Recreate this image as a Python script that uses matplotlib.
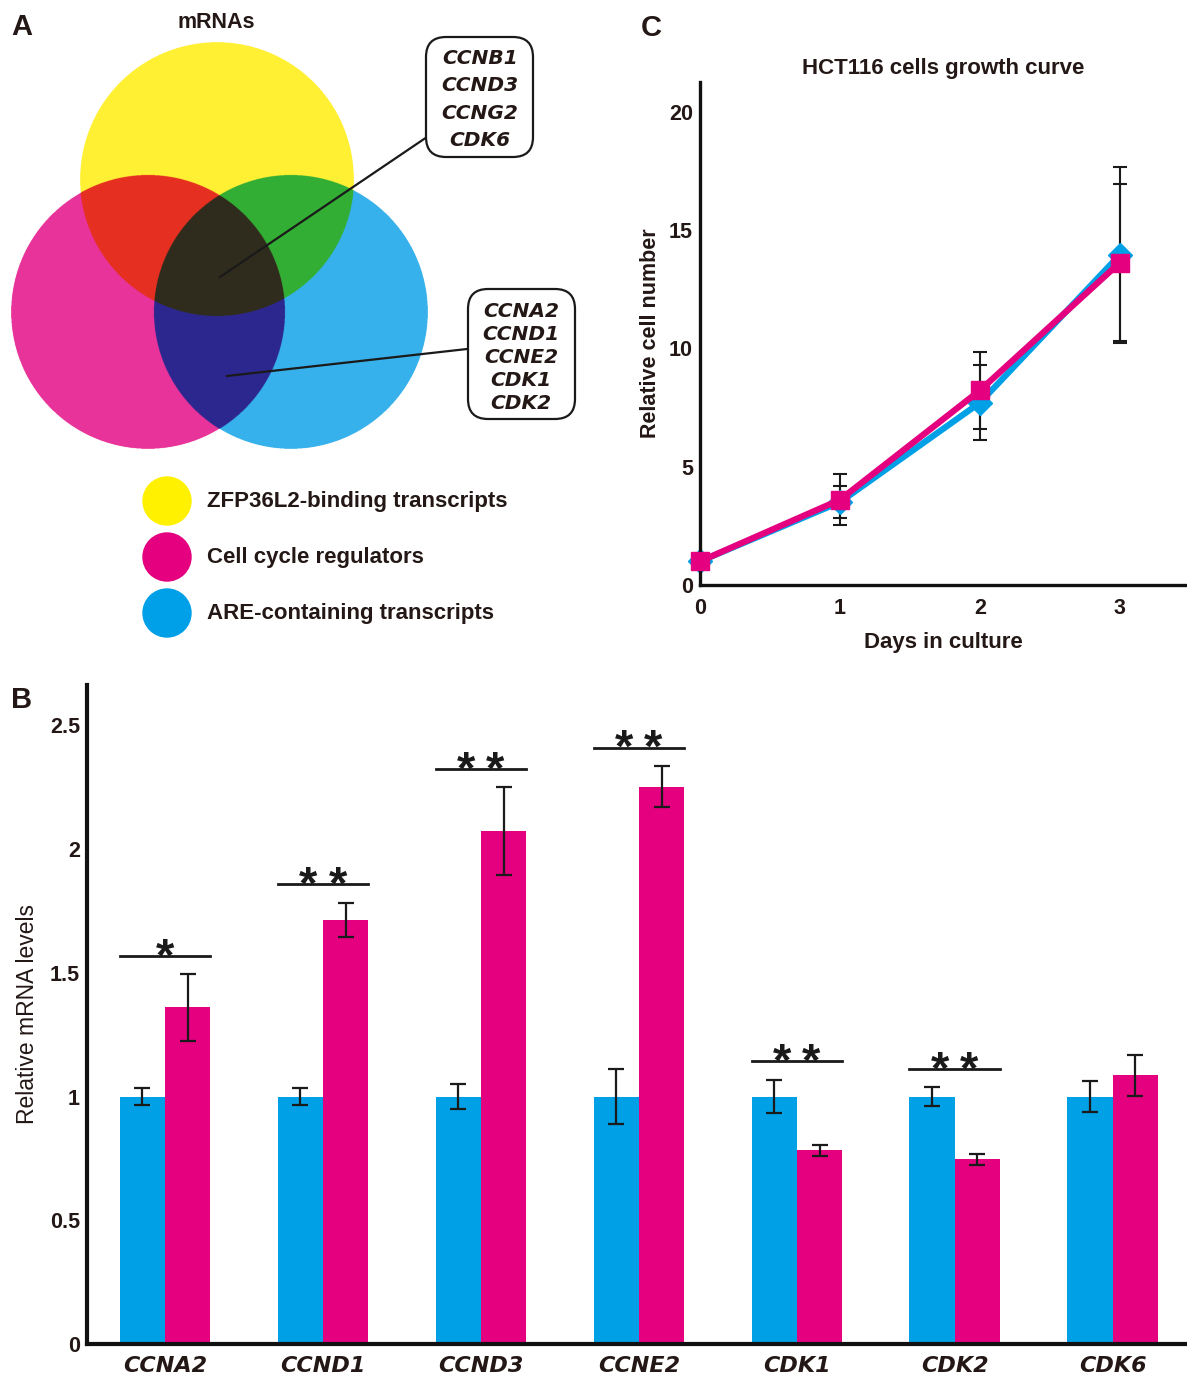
import numpy as np
import matplotlib.pyplot as plt
from matplotlib.patches import Circle, FancyBboxPatch, Rectangle
from matplotlib.colors import to_rgba

plt.rcParams['font.family'] = ['Liberation Sans', 'DejaVu Sans']
plt.rcParams['mathtext.fontset'] = 'custom'
plt.rcParams['mathtext.it'] = 'Liberation Sans:italic:bold'
plt.rcParams['mathtext.rm'] = 'Liberation Sans:bold'

BLUE = '#00A0E6'
PINK = '#E4007F'
INK = '#231815'

# ---- panel A data
venn_sets = ['ZFP36L2-binding transcripts', 'Cell cycle regulators', 'ARE-containing transcripts']
venn_key_colors = ['#FFF100', '#E4007F', '#00A0E9']
all_three_genes = ['CCNB1', 'CCND3', 'CCNG2', 'CDK6']
cc_are_genes = ['CCNA2', 'CCND1', 'CCNE2', 'CDK1', 'CDK2']

# ---- panel B data
genes = ['CCNA2', 'CCND1', 'CCND3', 'CCNE2', 'CDK1', 'CDK2', 'CDK6']
ctrl_mean = [1.0, 1.0, 1.0, 1.0, 1.0, 1.0, 1.0]
ctrl_err = [0.035, 0.034, 0.05, 0.11, 0.067, 0.038, 0.062]
zfp_mean = [1.36, 1.715, 2.072, 2.252, 0.783, 0.747, 1.086]
zfp_err = [0.136, 0.069, 0.178, 0.084, 0.022, 0.022, 0.082]
sig_stars = [1, 2, 2, 2, 2, 2, 0]
sig_level = [1.566, 1.857, 2.323, 2.41, 1.142, 1.111, 0]

# ---- panel C data
days = [0, 1, 2, 3]
ctrl_growth = [1.0, 3.5, 7.7, 13.95]
ctrl_sd = [0.0, 0.68, 1.58, 3.72]
zfp_growth = [1.0, 3.6, 8.22, 13.62]
zfp_sd = [0.0, 1.08, 1.61, 3.3]

W, H = 1187, 1377
fig = plt.figure(figsize=(W / 100, H / 100), dpi=100)


def px_rect(x0, y0, x1, y1):
    return [x0 / W, 1 - y1 / H, (x1 - x0) / W, (y1 - y0) / H]


# overlay in pixel coordinates (venn, letters, legends)
over = fig.add_axes([0, 0, 1, 1])
over.axis('off')

# Venn diagram: subtractive colour mixing of three discs
s = 3
vh, vw = 460 * s, 600 * s
yy, xx = (np.mgrid[0:vh, 0:vw] + 0.5) / s
discs = [(217, 179), (148, 312), (291, 312)]
r = 137
code = np.zeros((vh, vw), dtype=int)
for i, (cx, cy) in enumerate(discs):
    code += ((xx - cx) ** 2 + (yy - cy) ** 2 <= r ** 2).astype(int) << i
region_colors = {
    0: (1, 1, 1, 0),
    1: '#FFF033', 2: '#E8349A', 4: '#37B1EB',
    3: '#E62F21', 5: '#33AE34', 6: '#2D2690', 7: '#302D1D',
}
lut = np.array([to_rgba(region_colors[k]) for k in range(8)])
over.imshow(lut[code], extent=(0, 600, 460, 0), interpolation='antialiased', aspect='auto', zorder=1)

over.plot([220, 427], [277, 137], color='#1a1a1a', lw=1.6, zorder=2)
over.plot([227, 467], [376, 349], color='#1a1a1a', lw=1.6, zorder=2)
over.add_patch(FancyBboxPatch((426, 37), 107, 120, boxstyle='round,pad=0,rounding_size=20',
                              fc='white', ec='#1a1a1a', lw=1.6, zorder=3))
over.add_patch(FancyBboxPatch((468, 289), 107, 130, boxstyle='round,pad=0,rounding_size=20',
                              fc='white', ec='#1a1a1a', lw=1.6, zorder=3))
for i, g in enumerate(all_three_genes):
    over.text(480, 58.5 + i * 27.4, g, ha='center', va='center', fontsize=14.5,
              family='DejaVu Sans', weight='bold', style='italic', color=INK, zorder=4)
for i, g in enumerate(cc_are_genes):
    over.text(521, 311.3 + i * 23, g, ha='center', va='center', fontsize=14.5,
              family='DejaVu Sans', weight='bold', style='italic', color=INK, zorder=4)
over.text(216, 22, 'mRNAs', ha='center', va='center', fontsize=15.5, weight='bold', color=INK)

for i, (lab, col) in enumerate(zip(venn_sets, venn_key_colors)):
    yc = 501 + i * 56
    over.add_patch(Circle((167, yc), 24, color=col, zorder=2))
    over.text(207, yc + 1, lab, ha='left', va='center', fontsize=16, weight='bold', color=INK)

for lab, (lx, ly) in zip(['A', 'B', 'C'], [(22, 27), (22, 700), (651, 28)]):
    over.text(lx, ly, lab, ha='center', va='center', fontsize=21, weight='bold', color=INK)

# panel B legend
for i, (lab, col) in enumerate(zip([r'si $\mathit{Control}$', r'si $\mathit{ZFP36L2}$'], [BLUE, PINK])):
    yc = 843 + i * 29
    over.add_patch(Rectangle((890, yc - 8.5), 17, 17, color=col, zorder=2))
    over.text(919, yc, lab, ha='left', va='center', fontsize=16, weight='bold', color=INK)

# panel C legend
over.plot([779], [138], marker='D', ms=15.5, color=BLUE, ls='none')
over.plot([779.5], [180], marker='s', ms=16, color=PINK, ls='none')
over.text(800, 137, r'si $\mathit{Control}$', ha='left', va='center', fontsize=16, weight='bold', color=INK)
over.text(800, 179, r'si $\mathit{ZFP36L2}$', ha='left', va='center', fontsize=16, weight='bold', color=INK)

over.set_xlim(0, W)
over.set_ylim(H, 0)

# ---- panel B: bars
axb = fig.add_axes(px_rect(87, 685, 1187, 1344))
x = np.arange(len(genes))
bw = 0.287
axb.bar(x - bw / 2, ctrl_mean, bw, color=BLUE, zorder=2)
axb.bar(x + bw / 2, zfp_mean, bw, color=PINK, zorder=2)
ekw = dict(fmt='none', ecolor='#1a1a1a', elinewidth=1.6, capsize=5.5, capthick=1.6, zorder=3)
axb.errorbar(x - bw / 2, ctrl_mean, yerr=ctrl_err, **ekw)
axb.errorbar(x + bw / 2, zfp_mean, yerr=zfp_err, **ekw)
for xi, n, lev in zip(x, sig_stars, sig_level):
    if n == 0:
        continue
    axb.plot([xi - bw, xi + bw], [lev, lev], color='#1a1a1a', lw=2, zorder=3)
    offs = [0] if n == 1 else [-10.5, 10.5]
    for dx in offs:
        axb.annotate('*', xy=(xi, lev), xytext=(dx, -10.3), textcoords='offset points',
                     ha='center', va='baseline', fontsize=34, weight='bold', color='#1a1a1a')
axb.set_xlim(-0.494, 6.47)
axb.set_ylim(0, 2.663)
axb.set_yticks([0, 0.5, 1, 1.5, 2, 2.5])
axb.set_yticklabels(['0', '0.5', '1', '1.5', '2', '2.5'], fontsize=15.5, weight='bold', color=INK)
axb.set_xticks(x)
axb.set_xticklabels(genes, fontsize=16, family='DejaVu Sans', weight='bold', style='italic', color=INK)
axb.tick_params(length=0)
axb.tick_params(axis='y', pad=5)
axb.tick_params(axis='x', pad=9)
axb.set_ylabel('Relative mRNA levels', fontsize=16.5, color=INK, labelpad=8)
for sp in ['top', 'right']:
    axb.spines[sp].set_visible(False)
for sp in ['left', 'bottom']:
    axb.spines[sp].set_linewidth(3)
    axb.spines[sp].set_color('#111111')

# ---- panel C: growth curve
axc = fig.add_axes(px_rect(700, 82, 1187, 585))
ekc = dict(fmt='none', ecolor='#1a1a1a', elinewidth=1.5, capsize=5, capthick=1.5, zorder=1)
axc.errorbar(days, ctrl_growth, yerr=ctrl_sd, **ekc)
axc.errorbar(days, zfp_growth, yerr=zfp_sd, **ekc)
axc.plot(days, ctrl_growth, color=BLUE, lw=4.5, marker='D', ms=12, zorder=2, clip_on=False)
axc.plot(days, zfp_growth, color=PINK, lw=4.5, marker='s', ms=13, zorder=3, clip_on=False)
axc.set_xlim(0, 3.48)
axc.set_ylim(0, 21.25)
axc.set_xticks(days)
axc.set_xticklabels([str(d) for d in days], fontsize=15.5, weight='bold', color=INK)
axc.set_yticks([0, 5, 10, 15, 20])
axc.set_yticklabels(['0', '5', '10', '15', '20'], fontsize=15.5, weight='bold', color=INK)
axc.tick_params(length=0)
axc.tick_params(axis='y', pad=5)
axc.tick_params(axis='x', pad=9)
axc.set_title('HCT116 cells growth curve', fontsize=16, weight='bold', color=INK, pad=6)
axc.set_xlabel('Days in culture', fontsize=16, weight='bold', color=INK, labelpad=10)
axc.set_ylabel('Relative cell number', fontsize=15.5, weight='bold', color=INK, labelpad=6)
for sp in ['top', 'right']:
    axc.spines[sp].set_visible(False)
for sp in ['left', 'bottom']:
    axc.spines[sp].set_linewidth(2.4)
    axc.spines[sp].set_color('#111111')

fig.savefig('out.png', dpi=100)
